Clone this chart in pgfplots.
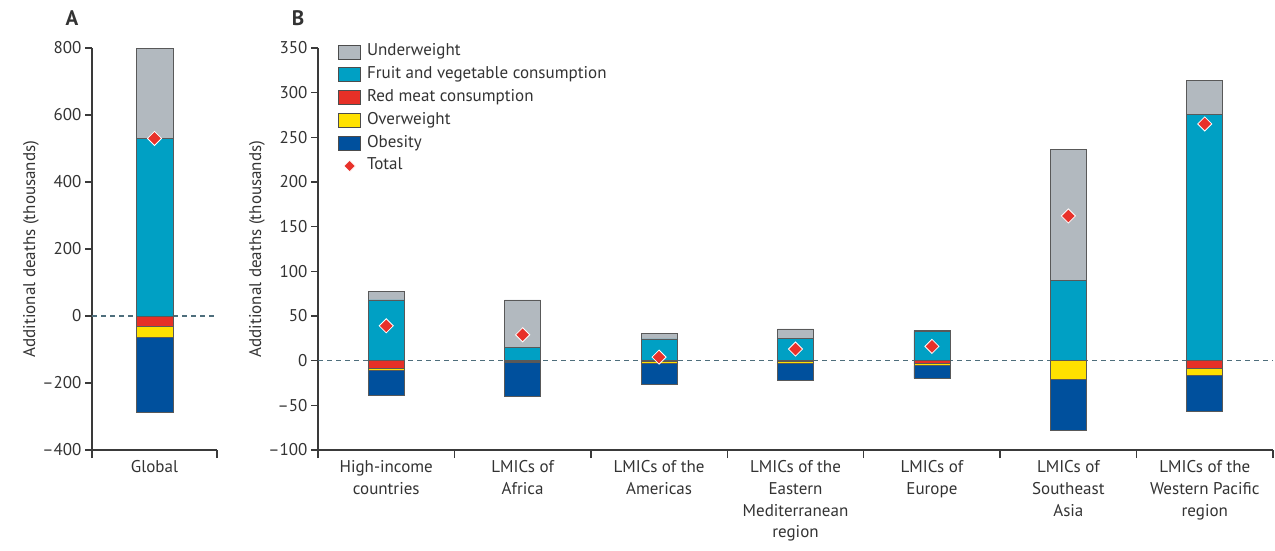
\documentclass[border=0pt]{standalone}
\usepackage{pgfplots}
\pgfplotsset{compat=1.18}
\usepackage{pgfplotstable}
\usepackage{fontspec}
\setmainfont{PT Sans}

\definecolor{uwgray}{HTML}{B2B9BF}
\definecolor{fvblue}{HTML}{00A0C4}
\definecolor{meatred}{HTML}{E63027}
\definecolor{owyellow}{HTML}{FFE100}
\definecolor{obblue}{HTML}{00509D}
\definecolor{totred}{HTML}{E8312A}
\definecolor{zeroline}{HTML}{4E6E7C}
\definecolor{axisgray}{HTML}{3A3A3A}
\definecolor{txtgray}{HTML}{333333}

% Segment sizes, thousands of additional deaths
\pgfplotstableread{
x fv uw red ow ob total
0 531 269 -30 -34 -224 530
}\globaltab

\pgfplotstableread{
x fv uw red ow ob total
0 68 9.3 -8.5 -2.5 -27.4 39
1 15 53 -0.5 -1.5 -37.5 29
2 24.3 6.4 -0.5 -2.5 -23 4
3 25 10.5 -0.5 -2 -20 13
4 32.8 1.5 -3.5 -2 -14.2 16
5 90 146.8 0 -20.9 -57.5 162
6 276 37.3 -8.6 -7.8 -40.6 265
}\regiontab

\newcommand{\lblfont}{\fontsize{17}{21.7}\selectfont}

\pgfplotsset{
  panel/.style={
    scale only axis, height=402pt,
    axis x line*=bottom, axis y line*=left,
    axis line style={line width=1.4pt, draw=axisgray},
    tick style={line width=1.4pt, draw=axisgray},
    tick align=outside, major tick length=7pt, minor tick length=8pt,
    major x tick style={draw=none},
    ticklabel style={font=\lblfont, text=txtgray},
    xticklabel style={align=center},
    label style={font=\lblfont, text=txtgray},
    ylabel={Additional deaths (thousands)},
    ylabel style={at={([xshift=-61pt]axis description cs:0,0.5)}, anchor=center},
    extra y ticks={0}, extra y tick labels={},
    extra y tick style={grid=major},
    major grid style={draw=zeroline, line width=1.4pt, dash pattern=on 5pt off 4pt},
    ybar stacked,
    seg/.style={draw=black!65, line width=0.7pt, fill=##1},
  },
  dots/.style={scale only axis, height=402pt, hide axis},
  totalmark/.style={only marks, mark=square*, mark size=5pt,
    mark options={rotate=45, fill=totred, draw=white, line width=0.8pt}},
}

\begin{document}
\begin{tikzpicture}
\useasboundingbox (0pt,0pt) rectangle (1275pt,550pt);

% ---------- Panel A: global ----------
\begin{axis}[panel, at={(92pt,100pt)}, anchor=south west, width=125pt,
  xmin=-0.5, xmax=0.5, ymin=-400, ymax=800,
  ytick={-400,-200,0,200,400,600,800},
  yticklabels={\textendash400,\textendash200,0,200,400,600,800},
  xtick={0}, xticklabels={Global}, minor xtick={-0.5,0.5},
  bar width=37pt]
% negative contributions stack downward from zero, positive ones upward
\addplot[seg=meatred] table[x=x,y=red]{\globaltab};
\addplot[seg=owyellow] table[x=x,y=ow]{\globaltab};
\addplot[seg=obblue] table[x=x,y=ob]{\globaltab};
\addplot[seg=fvblue] table[x=x,y=fv]{\globaltab};
\addplot[seg=uwgray] table[x=x,y=uw]{\globaltab};
\end{axis}
\begin{axis}[dots, at={(92pt,100pt)}, anchor=south west, width=125pt,
  xmin=-0.5, xmax=0.5, ymin=-400, ymax=800]
\addplot[totalmark] table[x=x,y=total]{\globaltab};
\end{axis}

% ---------- Panel B: regions ----------
\begin{axis}[panel, at={(318pt,100pt)}, anchor=south west, width=955pt,
  xmin=-0.5, xmax=6.5, ymin=-100, ymax=350,
  ytick={-100,-50,...,350},
  yticklabels={\textendash100,\textendash50,0,50,100,150,200,250,300,350},
  xtick={0,...,6}, minor xtick={-0.5,0.5,...,6.5},
  xticklabels={{High-income\\countries},{LMICs of\\Africa},{LMICs of the\\Americas},
    {LMICs of the\\Eastern\\Mediterranean\\region},{LMICs of\\Europe},
    {LMICs of\\Southeast\\Asia},{LMICs of the\\Western Pacific\\region}},
  bar width=36pt,
  legend style={at={(axis description cs:0.021,1.013)}, anchor=north west,
    draw=none, fill=none, inner sep=0pt, font=\lblfont, text=txtgray,
    row sep=4.8pt, column sep=5pt,
    nodes={inner sep=1pt, text height=12pt, text depth=4pt}},
  legend cell align=left,
  legend image code/.code={\draw[#1, draw=black!70, line width=0.8pt] (0pt,-7pt) rectangle (22pt,7pt);}]
\addplot[seg=meatred, forget plot] table[x=x,y=red]{\regiontab};
\addplot[seg=owyellow, forget plot] table[x=x,y=ow]{\regiontab};
\addplot[seg=obblue, forget plot] table[x=x,y=ob]{\regiontab};
\addplot[seg=fvblue, forget plot] table[x=x,y=fv]{\regiontab};
\addplot[seg=uwgray, forget plot] table[x=x,y=uw]{\regiontab};
\addlegendimage{fill=uwgray}
\addlegendentry{Underweight}
\addlegendimage{fill=fvblue}
\addlegendentry{Fruit and vegetable consumption}
\addlegendimage{fill=meatred}
\addlegendentry{Red meat consumption}
\addlegendimage{fill=owyellow}
\addlegendentry{Overweight}
\addlegendimage{fill=obblue}
\addlegendentry{Obesity}
\addlegendimage{legend image code/.code={\draw[mark repeat=1, only marks, mark=square*, mark size=4pt,
    mark options={rotate=45, fill=totred, draw=white, line width=0.6pt}] plot coordinates {(11pt,0pt)};}}
\addlegendentry{Total}
\end{axis}
\begin{axis}[dots, at={(318pt,100pt)}, anchor=south west, width=955pt,
  xmin=-0.5, xmax=6.5, ymin=-100, ymax=350]
\addplot[totalmark] table[x=x,y=total]{\regiontab};
\end{axis}

% Panel letters
\node[font=\fontsize{21}{24}\bfseries\selectfont, text=txtgray] at (72pt,532pt) {A};
\node[font=\fontsize{21}{24}\bfseries\selectfont, text=txtgray] at (298pt,532pt) {B};
\end{tikzpicture}
\end{document}
